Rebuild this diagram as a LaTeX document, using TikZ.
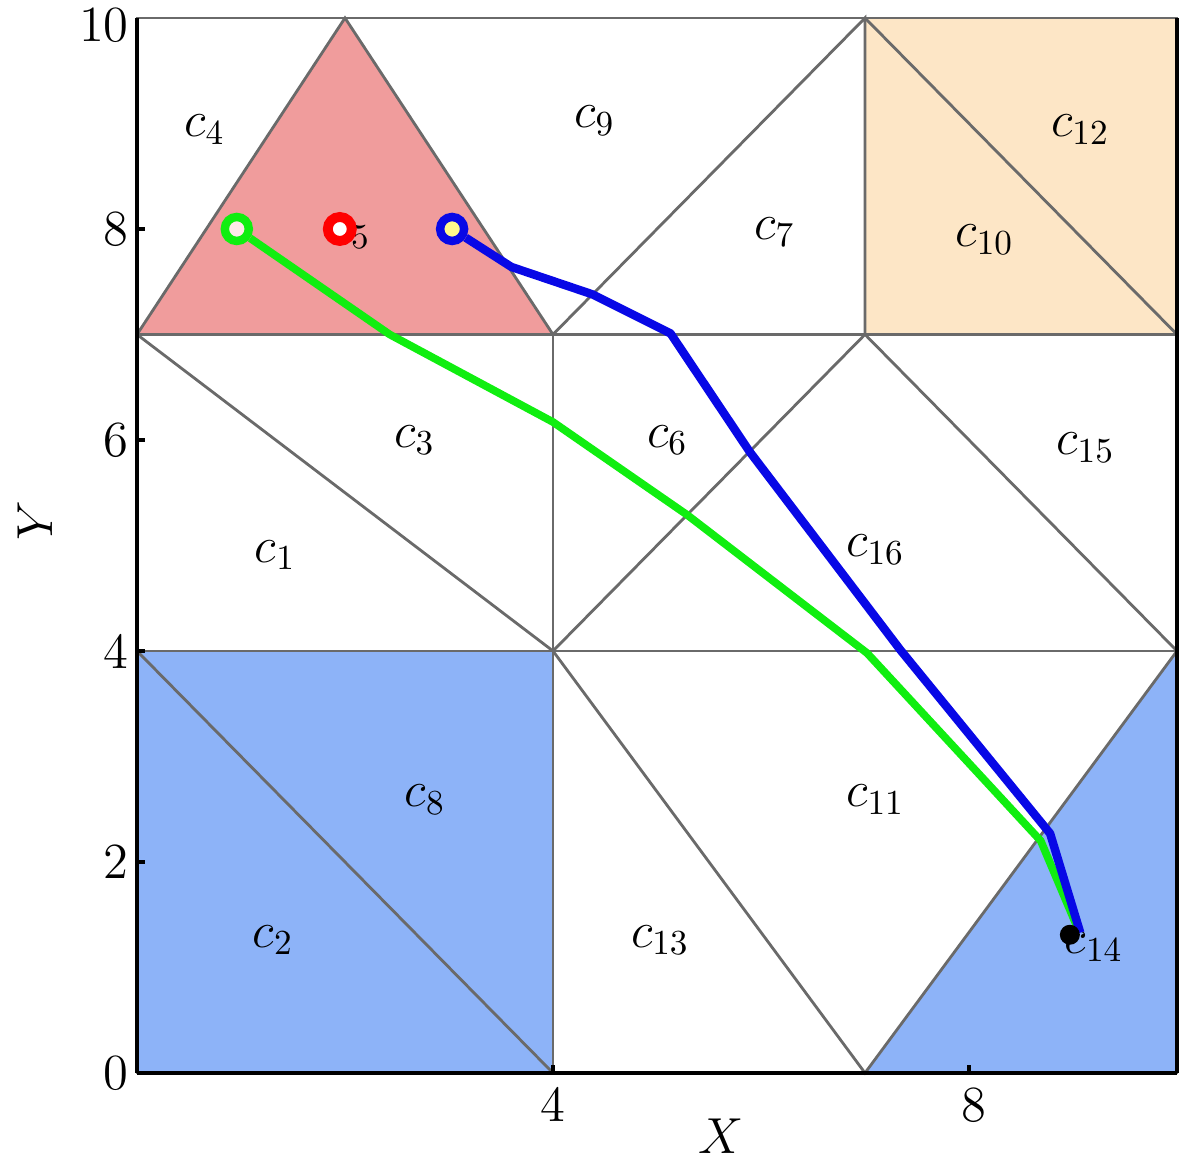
\documentclass[tikz,border=0pt]{standalone}
\begin{document}
\definecolor{redfill}{HTML}{F09C9C}
\definecolor{beigefill}{HTML}{FDE6C6}
\definecolor{bluefill}{HTML}{8DB3F8}
\definecolor{edgegray}{HTML}{6A6A6A}
\definecolor{pathgreen}{HTML}{10EE10}
\definecolor{pathblue}{HTML}{0808E6}
\tikzset{
  edge/.style={draw=edgegray, line width=0.8pt},
  axisline/.style={draw=black, line width=1pt},
  cellname/.style={font=\Large, inner sep=0pt},
  ticklbl/.style={font=\Large, inner sep=1pt},
  gpath/.style={draw=pathgreen, line width=2.2pt, line join=round},
  bpath/.style={draw=pathblue, line width=2.4pt, line join=round},
  startmark/.style={circle, line width=2.4pt, minimum size=0.24cm, inner sep=0pt}
}
\begin{tikzpicture}[x=1.04cm, y=1.055cm]
\useasboundingbox (-1.3173,-0.8152) rectangle (10.2212,10.1706);
% fills
\fill[redfill] (0,7) -- (4,7) -- (2,10) -- cycle;
\fill[beigefill] (7,7) rectangle (10,10);
\fill[bluefill] (0,0) rectangle (4,4);
\fill[bluefill] (7,0) -- (10,0) -- (10,4) -- cycle;
% mesh edges
\draw[edge] (0,0) rectangle (10,10);
\draw[edge] (0,7) -- (10,7);
\draw[edge] (0,4) -- (10,4);
\draw[edge] (0,7) -- (2,10) -- (4,7);
\draw[edge] (4,7) -- (7,10) -- (7,7);
\draw[edge] (7,10) -- (10,7);
\draw[edge] (0,7) -- (4,4);
\draw[edge] (4,7) -- (4,0);
\draw[edge] (4,4) -- (7,7) -- (10,4);
\draw[edge] (0,4) -- (4,0);
\draw[edge] (4,4) -- (7,0) -- (10,4);
% axes
\draw[axisline] (0,0) -- (0,10);
\draw[axisline] (0,0) -- (10,0);
\draw[axisline] (10,0) -- (10,10);
\foreach \yy in {2,4,6,8} \draw[axisline] (0,\yy) -- (0.08,\yy);
\foreach \xx in {4,8} \draw[axisline] (\xx,0) -- (\xx,0.08);
% tick labels
\node[ticklbl, anchor=east] (y0) at (-0.04,0) {0};
\node[ticklbl, anchor=east] (y2) at (-0.04,2) {2};
\node[ticklbl, anchor=east] (y4) at (-0.04,4) {4};
\node[ticklbl, anchor=east] (y6) at (-0.04,6) {6};
\node[ticklbl, anchor=east] (y8) at (-0.04,8) {8};
\node[ticklbl, anchor=east] (y10) at (-0.04,9.93) {10};
\node[ticklbl, anchor=north] (x4) at (4,-0.1) {4};
\node[ticklbl, anchor=north] (x8) at (8.05,-0.1) {8};
\node[ticklbl] (xlab) at (5.62,-0.6) {$X$};
\node[ticklbl, rotate=90] (ylab) at (-0.98,5.24) {$Y$};
% cell names
\node[cellname] (c1) at (1.33,4.91) {$c_{1}$};
\node[cellname] (c2) at (1.31,1.26) {$c_{2}$};
\node[cellname] (c3) at (2.67,6.0) {$c_{3}$};
\node[cellname] (c4) at (0.65,8.94) {$c_{4}$};
\node[cellname] (c5) at (2.05,7.95) {$c_{5}$};
\node[cellname] (c6) at (5.1,6.0) {$c_{6}$};
\node[cellname] (c7) at (6.13,7.97) {$c_{7}$};
\node[cellname] (c8) at (2.77,2.59) {$c_{8}$};
\node[cellname] (c9) at (4.4,9.03) {$c_{9}$};
\node[cellname] (c10) at (8.15,7.9) {$c_{10}$};
\node[cellname] (c11) at (7.1,2.59) {$c_{11}$};
\node[cellname] (c12) at (9.07,8.94) {$c_{12}$};
\node[cellname] (c13) at (5.03,1.26) {$c_{13}$};
\node[cellname] (c14) at (9.2,1.2) {$c_{14}$};
\node[cellname] (c15) at (9.12,5.93) {$c_{15}$};
\node[cellname] (c16) at (7.1,4.96) {$c_{16}$};
% path vertices
\coordinate (g1) at (2.43,7.0);
\coordinate (g2) at (4.0,6.17);
\coordinate (g3) at (5.29,5.29);
\coordinate (g4) at (7.02,3.98);
\coordinate (g5) at (8.69,2.2);
\coordinate (gend) at (9.05,1.36);
\coordinate (b1) at (3.6,7.64);
\coordinate (b2) at (4.38,7.38);
\coordinate (b3) at (5.13,7.01);
\coordinate (b4) at (5.89,5.89);
\coordinate (b5) at (7.34,4.01);
\coordinate (b6) at (8.78,2.27);
\coordinate (bend) at (9.07,1.33);
% start markers
\node[startmark, draw=pathgreen, fill=pink!35] (gs) at (0.96,8.0) {};
\node[startmark, draw=pathblue, fill=yellow!45] (bs) at (3.03,8.0) {};
\node[startmark, draw=red, fill=white, line width=2.8pt] (rs) at (1.95,8.0) {};
% paths
\draw[gpath] (gs) -- (g1) -- (g2) -- (g3) -- (g4) -- (g5) -- (gend);
\draw[bpath] (bs) -- (b1) -- (b2) -- (b3) -- (b4) -- (b5) -- (b6) -- (bend);
\node[circle, fill=black, minimum size=0.2cm, inner sep=0pt] (endmark) at (8.97,1.31) {};
\end{tikzpicture}
\end{document}
